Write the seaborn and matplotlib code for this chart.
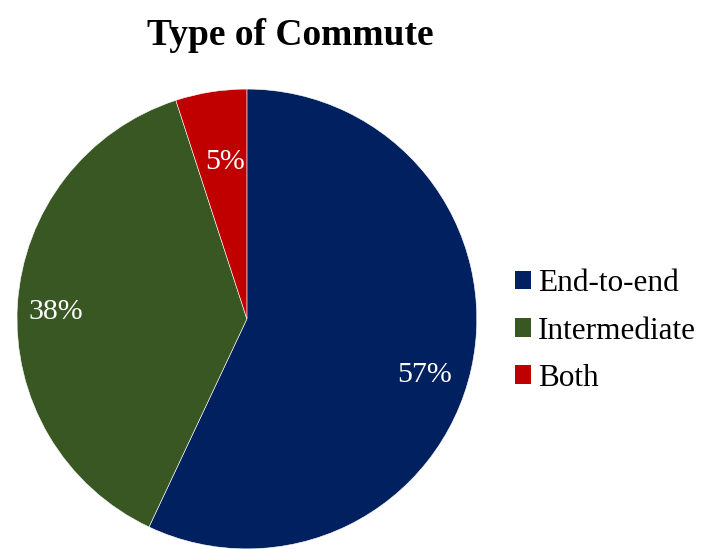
import numpy as np
import matplotlib
matplotlib.use("Agg")
import matplotlib.pyplot as plt
import seaborn as sns
from matplotlib.patches import Patch

# Commute types and their shares (percent)
categories = ["End-to-end", "Intermediate", "Both"]
shares = [57, 38, 5]
colors = ["#002060", "#385723", "#C00000"]

sns.set_theme(style="white")
plt.rcParams["font.family"] = ["Liberation Serif", "DejaVu Serif"]
plt.rcParams["text.color"] = "black"

fig = plt.figure(figsize=(7.02, 5.49), dpi=100)
ax = fig.add_axes([0.0242, 0.0, 0.655, 0.838])

wedges, texts, autotexts = ax.pie(
    shares,
    colors=sns.color_palette(colors),
    startangle=90,
    counterclock=False,
    autopct="%1.0f%%",
    pctdistance=0.8,
    wedgeprops=dict(edgecolor="white", linewidth=0.4),
    textprops=dict(color="white", fontsize=21.5),
)
ax.set_aspect("equal")
ax.set_xlim(-1.0, 1.0)
ax.set_ylim(-1.0, 1.0)

# radial distance and angular nudge for each percentage label
label_radius = [0.81, 0.83, 0.69]
label_nudge = [-5.0, 1.5, -1.0]
for w, t, r, dn in zip(wedges, autotexts, label_radius, label_nudge):
    mid = np.deg2rad((w.theta1 + w.theta2) / 2 + dn)
    t.set_position((r * np.cos(mid), r * np.sin(mid)))

fig.text(0.413, 0.935, "Type of Commute", ha="center", va="center",
         fontsize=27, fontweight="bold", color="black")

handles = [Patch(facecolor=c, edgecolor="none") for c in colors]
leg = fig.legend(handles, categories, loc="center left",
                 bbox_to_anchor=(0.733, 0.397), frameon=False, fontsize=22.5,
                 handlelength=0.52, handleheight=0.52, handletextpad=0.22,
                 labelspacing=0.58, borderpad=0, borderaxespad=0)
for t in leg.get_texts():
    t.set_color("black")

fig.savefig("out.png", dpi=100, facecolor="white")
